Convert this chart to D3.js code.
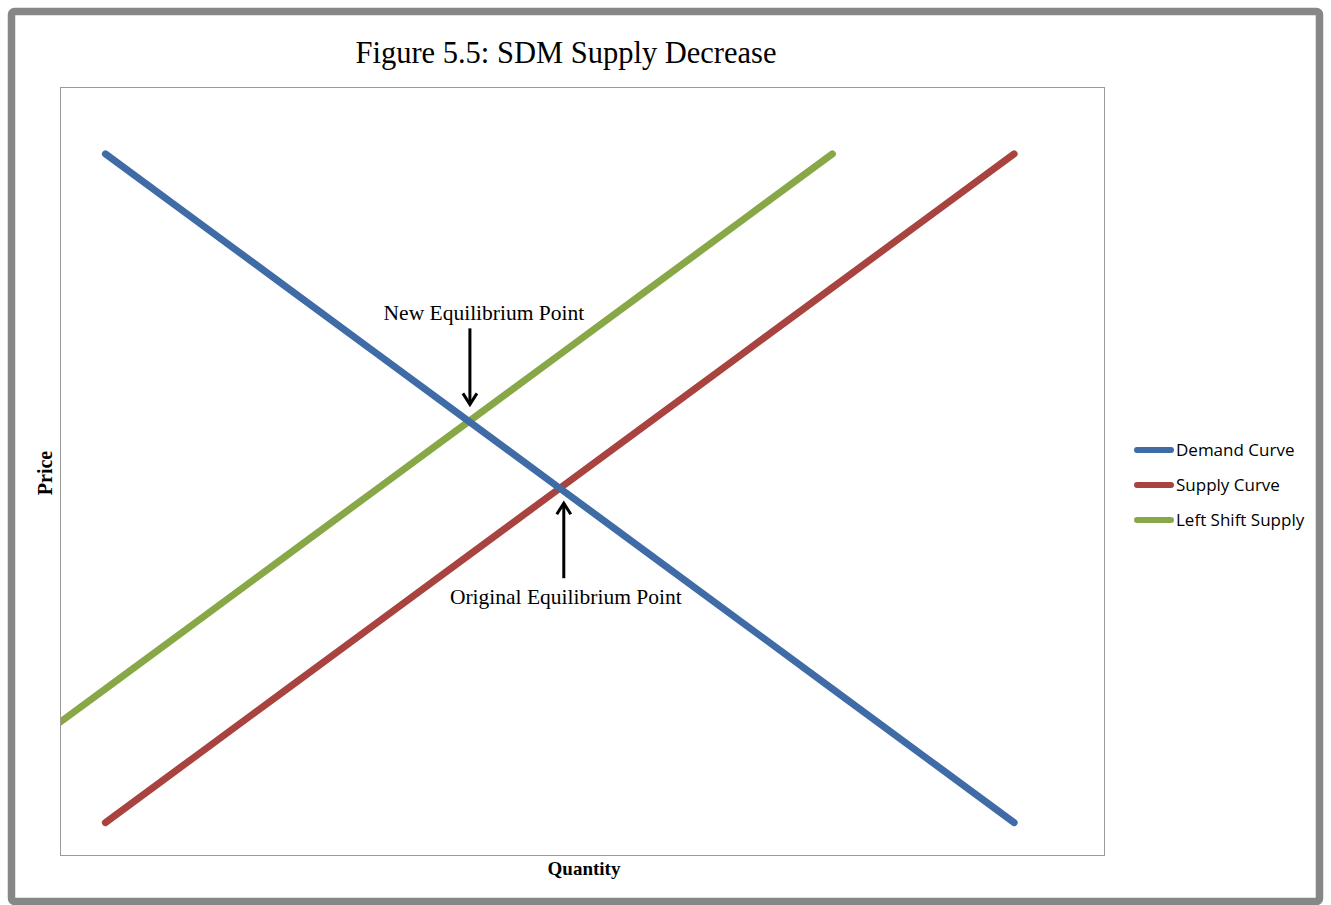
<!DOCTYPE html>
<html>
<head>
<meta charset="utf-8">
<script src="https://cdn.jsdelivr.net/npm/d3@7"></script>
<style>
  html, body { margin: 0; padding: 0; background: #fff; }
  svg { display: block; }
</style>
</head>
<body>
<svg id="chart" width="1331" height="905"></svg>
<script>
// Supply and demand model: quantity on x, price on y
const demandQ = [0, 1, 2, 3, 4, 5, 6, 7, 8, 9, 10];
const demandP = [10, 9, 8, 7, 6, 5, 4, 3, 2, 1, 0];
const supplyQ = [0, 1, 2, 3, 4, 5, 6, 7, 8, 9, 10];
const supplyP = [0, 1, 2, 3, 4, 5, 6, 7, 8, 9, 10];
const shiftQ = [-2, -1, 0, 1, 2, 3, 4, 5, 6, 7, 8];
const shiftP = [0, 1, 2, 3, 4, 5, 6, 7, 8, 9, 10];
const seriesNames = ["Demand Curve", "Supply Curve", "Left Shift Supply"];
const seriesColors = ["#3F6CA6", "#A8433F", "#88A847"];
const annotations = [
  { label: "New Equilibrium Point", q: 4, p: 6, dir: "down" },
  { label: "Original Equilibrium Point", q: 5, p: 5, dir: "up" }
];

const svg = d3.select("#chart");
const W = 1331, H = 905;
const plot = { left: 60, top: 87, right: 1105, bottom: 856 };

// outer frame
svg.append("rect")
  .attr("x", 11.5).attr("y", 11.5)
  .attr("width", W - 23).attr("height", 890)
  .attr("rx", 3)
  .attr("fill", "#fff")
  .attr("stroke", "#878787")
  .attr("stroke-width", 7.5);

// title
svg.append("text")
  .attr("x", 566).attr("y", 63)
  .attr("text-anchor", "middle")
  .attr("font-family", "'Liberation Serif', 'Times New Roman', serif")
  .attr("font-size", 30.5)
  .attr("fill", "#000")
  .text("Figure 5.5: SDM Supply Decrease");

const x = d3.scaleLinear().domain([-0.5, 11]).range([plot.left, plot.right]);
const y = d3.scaleLinear().domain([-0.5, 11]).range([plot.bottom, plot.top]);

// plot area border
svg.append("rect")
  .attr("x", plot.left + 0.5).attr("y", plot.top + 0.5)
  .attr("width", plot.right - plot.left - 1).attr("height", plot.bottom - plot.top - 1)
  .attr("fill", "none")
  .attr("stroke", "#9a9a9a")
  .attr("stroke-width", 1);

svg.append("clipPath").attr("id", "plotClip")
  .append("rect")
  .attr("x", plot.left + 1).attr("y", plot.top)
  .attr("width", plot.right - plot.left - 1).attr("height", plot.bottom - plot.top);

const seriesData = [
  demandQ.map((q, i) => [q, demandP[i]]),
  supplyQ.map((q, i) => [q, supplyP[i]]),
  shiftQ.map((q, i) => [q, shiftP[i]])
];

const line = d3.line().x(d => x(d[0])).y(d => y(d[1]));

const lines = svg.append("g").attr("clip-path", "url(#plotClip)");
// draw green first, then red, then blue on top
[2, 1, 0].forEach(i => {
  lines.append("path")
    .datum(seriesData[i])
    .attr("d", line)
    .attr("fill", "none")
    .attr("stroke", seriesColors[i])
    .attr("stroke-width", 7)
    .attr("stroke-linecap", "round")
    .attr("stroke-linejoin", "round");
});

// axis titles
svg.append("text")
  .attr("transform", "translate(52,473) rotate(-90)")
  .attr("text-anchor", "middle")
  .attr("font-family", "'Liberation Serif', 'Times New Roman', serif")
  .attr("font-weight", "bold")
  .attr("font-size", 20)
  .text("Price");

svg.append("text")
  .attr("x", 584).attr("y", 875)
  .attr("text-anchor", "middle")
  .attr("font-family", "'Liberation Serif', 'Times New Roman', serif")
  .attr("font-weight", "bold")
  .attr("font-size", 19)
  .text("Quantity");

// equilibrium annotations
const ann = svg.append("g")
  .attr("font-family", "'Liberation Serif', 'Times New Roman', serif")
  .attr("font-size", 21.5);

annotations.forEach(a => {
  const px = x(a.q), py = y(a.p);
  if (a.dir === "down") {
    const ax = px + 1, y0 = py - 93, y1 = py - 17;
    ann.append("text").attr("x", ax + 14).attr("y", py - 101)
      .attr("text-anchor", "middle").text(a.label);
    ann.append("line").attr("x1", ax).attr("x2", ax).attr("y1", y0).attr("y2", y1)
      .attr("stroke", "#000").attr("stroke-width", 3);
    ann.append("path")
      .attr("d", `M${ax - 7},${y1 - 11} L${ax},${y1} L${ax + 7},${y1 - 11}`)
      .attr("fill", "none").attr("stroke", "#000").attr("stroke-width", 3)
      .attr("stroke-linejoin", "miter");
  } else {
    const ax = px + 4, y0 = py + 90, y1 = py + 15;
    ann.append("text").attr("x", ax + 2).attr("y", py + 116)
      .attr("text-anchor", "middle").text(a.label);
    ann.append("line").attr("x1", ax).attr("x2", ax).attr("y1", y0).attr("y2", y1)
      .attr("stroke", "#000").attr("stroke-width", 3);
    ann.append("path")
      .attr("d", `M${ax - 7},${y1 + 11} L${ax},${y1} L${ax + 7},${y1 + 11}`)
      .attr("fill", "none").attr("stroke", "#000").attr("stroke-width", 3)
      .attr("stroke-linejoin", "miter");
  }
});

// legend
const legend = svg.append("g").attr("transform", "translate(1135,450)");
seriesNames.forEach((name, i) => {
  const g = legend.append("g").attr("transform", `translate(0,${i * 35})`);
  g.append("line")
    .attr("x1", 2).attr("x2", 36).attr("y1", 0).attr("y2", 0)
    .attr("stroke", seriesColors[i]).attr("stroke-width", 6)
    .attr("stroke-linecap", "round");
  g.append("text")
    .attr("x", 41).attr("y", 6)
    .attr("font-family", "'Open Sans', 'Liberation Sans', sans-serif")
    .attr("font-size", 17)
    .attr("fill", "#000")
    .text(name);
});
</script>
</body>
</html>
